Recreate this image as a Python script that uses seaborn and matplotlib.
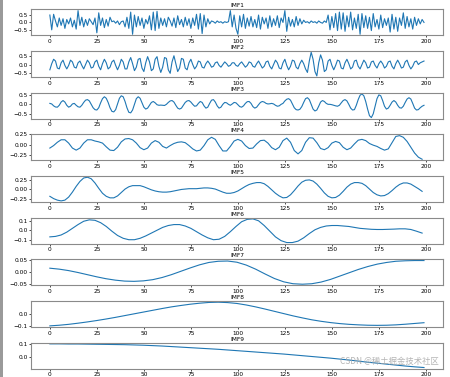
import numpy as np
import matplotlib
matplotlib.use("Agg")
import matplotlib.pyplot as plt
import seaborn as sns

# ---- IMF components ----
imf1 = [
    0.50, -0.50, 0.55, 0.10, -0.30, 0.30, -0.20, 0.25, -0.40, 0.20,
    -0.10, 0.30, -0.30, 0.15, -0.45, 0.80, -0.20, 0.35, -0.30, 0.20,
    -0.20, 0.25, 0.05, -0.15, 0.30, -0.70, 0.65, -0.20, 0.30, -0.35,
    0.20, -0.25, 0.35, 0.05, 0.10, -0.05, 0.10, -0.15, 0.05, 0.10,
    -0.30, 0.35, -0.40, 0.70, -0.80, 0.50, -0.30, 0.40, -0.20, 0.30,
    -0.40, 0.20, -0.10, 0.45, -0.50, 0.70, -0.55, 0.75, -0.40, 0.30,
    -0.20, 0.25, -0.30, 0.35, 0.10, -0.25, 0.30, -0.35, 0.45, -0.15,
    0.20, -0.30, 0.35, -0.20, 0.25, -0.40, 0.30, -0.20, 0.55, -0.45,
    0.60, -0.75, 0.50, -0.30, 0.25, -0.10, 0.10, 0.05, -0.05, 0.10,
    0.00, 0.05, -0.05, 0.05, 0.00, 0.05, 0.80, -0.30, 0.50, -0.40,
    -0.80, 0.45, -0.30, 0.55, -0.40, 0.30, -0.25, 0.40, -0.30, 0.20,
    -0.35, 0.50, -0.45, 0.35, -0.10, 0.30, -0.40, 0.45, -0.30, 0.25,
    -0.20, 0.45, -0.35, 0.30, 0.00, 0.80, -0.60, 0.35, -0.25, 0.20,
    -0.30, 0.40, -0.20, 0.25, -0.10, 0.15, 0.00, 0.05, -0.05, 0.10,
    0.00, 0.05, -0.05, 0.10, 0.00, -0.05, 0.10, 0.00, 0.50, -0.50,
    0.40, -0.35, 0.60, -0.55, 0.70, -0.45, 0.65, -0.60, 0.45, -0.30,
    0.70, -0.50, 0.30, -0.40, 0.55, -0.80, 0.60, -0.35, 0.45, -0.40,
    0.35, -0.55, 0.60, -0.30, 0.20, -0.45, 0.50, -0.35, 0.25, -0.20,
    0.30, -0.65, 0.55, -0.45, 0.35, -0.60, 0.30, -0.20, 0.65, -0.40,
    0.40, -0.30, 0.25, -0.45, 0.35, -0.20, 0.25, -0.10, 0.20, 0.00,
]

imf2 = [
    -0.30, 0.05, 0.30, 0.20, -0.20, -0.25, 0.10, 0.25, -0.05, -0.25,
    -0.05, 0.25, 0.15, -0.15, -0.20, 0.10, 0.20, -0.05, -0.25, 0.00,
    0.25, 0.10, -0.20, -0.15, 0.15, 0.25, -0.10, -0.30, 0.05, 0.30,
    0.10, -0.25, -0.15, 0.15, 0.25, -0.05, -0.30, -0.05, 0.30, 0.15,
    -0.25, -0.25, 0.15, 0.40, 0.05, -0.35, -0.15, 0.30, 0.35, -0.20,
    -0.40, 0.10, 0.45, 0.15, -0.35, -0.25, 0.30, 0.45, -0.10, -0.45,
    -0.15, 0.40, 0.35, -0.30, -0.50, 0.15, 0.50, 0.05, -0.40, -0.20,
    0.35, 0.30, -0.20, -0.30, 0.10, 0.30, 0.00, -0.25, -0.10, 0.20,
    0.15, -0.15, -0.20, 0.05, 0.20, 0.05, -0.15, -0.10, 0.10, 0.15,
    -0.05, -0.15, 0.00, 0.15, 0.05, -0.10, -0.05, 0.10, 0.10, -0.05,
    -0.10, 0.05, 0.15, 0.00, -0.15, -0.05, 0.15, 0.10, -0.10, -0.15,
    0.05, 0.20, 0.00, -0.20, -0.10, 0.15, 0.20, -0.10, -0.25, 0.00,
    0.25, 0.10, -0.20, -0.25, 0.10, 0.30, -0.05, -0.30, -0.10, 0.25,
    0.20, -0.15, -0.25, 0.05, 0.25, 0.05, -0.25, -0.45, 0.20, 0.70,
    0.30, -0.40, -0.65, 0.10, 0.55, 0.25, -0.40, -0.30, 0.20, 0.30,
    -0.05, -0.30, -0.05, 0.25, 0.20, -0.20, -0.25, 0.10, 0.30, 0.05,
    -0.25, -0.15, 0.20, 0.25, -0.10, -0.25, 0.00, 0.25, 0.10, -0.20,
    -0.15, 0.15, 0.20, -0.05, -0.20, 0.05, 0.20, 0.05, -0.20, -0.10,
    0.15, 0.20, -0.10, -0.25, 0.05, 0.25, 0.05, -0.20, -0.15, 0.15,
    0.25, -0.05, -0.25, -0.10, 0.15, 0.20, 0.00, 0.10, 0.15, 0.20,
]

imf3 = [
    0.05, 0.02, -0.08, -0.14, -0.15, -0.05, 0.12, 0.20, 0.12, -0.05,
    -0.15, -0.10, 0.02, 0.05, -0.05, -0.13, -0.15, -0.05, 0.10, 0.22,
    0.25, 0.18, 0.00, -0.18, -0.28, -0.30, -0.18, 0.08, 0.30, 0.40,
    0.32, 0.10, -0.18, -0.37, -0.40, -0.28, 0.02, 0.32, 0.45, 0.40,
    0.15, -0.18, -0.42, -0.45, -0.30, 0.00, 0.30, 0.40, 0.32, 0.08,
    -0.15, -0.25, -0.20, -0.05, 0.10, 0.15, 0.08, -0.02, -0.05, -0.04,
    -0.05, -0.06, 0.00, 0.10, 0.18, 0.20, 0.12, -0.05, -0.20, -0.25,
    -0.20, -0.05, 0.10, 0.18, 0.20, 0.12, 0.00, -0.10, -0.08, 0.05,
    0.15, 0.10, -0.08, -0.20, -0.15, 0.05, 0.22, 0.25, 0.12, -0.08,
    -0.20, -0.15, 0.00, 0.10, 0.08, 0.00, -0.05, 0.02, 0.10, 0.08,
    -0.02, -0.12, -0.15, -0.08, 0.05, 0.14, 0.15, 0.05, -0.12, -0.20,
    -0.15, -0.02, 0.10, 0.15, 0.12, 0.05, 0.02, 0.03, 0.05, 0.02,
    -0.05, -0.10, -0.08, 0.00, 0.05, 0.18, 0.27, 0.30, 0.22, 0.02,
    -0.18, -0.28, -0.30, -0.26, -0.12, 0.10, 0.30, 0.35, 0.25, 0.00,
    -0.25, -0.35, -0.30, -0.10, 0.12, 0.20, 0.15, 0.05, 0.00, 0.00,
    -0.02, -0.05, -0.08, -0.10, -0.05, 0.08, 0.20, 0.25, 0.18, 0.00,
    -0.20, -0.30, -0.28, -0.05, 0.25, 0.48, 0.55, 0.45, 0.15, -0.25,
    -0.60, -0.70, -0.50, -0.10, 0.30, 0.50, 0.45, 0.20, -0.10, -0.25,
    -0.20, -0.05, 0.12, 0.20, 0.12, -0.05, -0.18, -0.20, -0.10, 0.10,
    0.28, 0.35, 0.28, 0.05, -0.20, -0.30, -0.28, -0.18, -0.10, -0.05,
]

# sampled every 2 steps
imf4 = [
    -0.08, -0.02, 0.06, 0.12, 0.12, 0.04, -0.08, -0.13, -0.08, 0.04,
    0.12, 0.12, 0.09, 0.07, 0.04, -0.05, -0.13, -0.14, -0.06, 0.07,
    0.14, 0.15, 0.12, 0.04, -0.07, -0.12, -0.08, 0.04, 0.10, 0.06,
    -0.04, -0.08, -0.02, 0.03, 0.06, 0.07, 0.05, -0.02, -0.10, -0.15,
    -0.13, -0.02, 0.12, 0.18, 0.13, -0.02, -0.15, -0.15, -0.04, 0.09,
    0.13, 0.09, -0.02, -0.09, -0.08, 0.02, 0.10, 0.11, 0.04, -0.07,
    -0.12, -0.06, 0.10, 0.16, 0.06, -0.14, -0.22, -0.14, 0.06, 0.17,
    0.16, 0.05, -0.09, -0.12, -0.07, 0.04, 0.08, 0.05, -0.06, -0.12,
    -0.08, 0.02, 0.11, 0.13, 0.10, 0.03, -0.01, -0.04, -0.09, -0.13,
    -0.10, 0.05, 0.20, 0.22, 0.18, 0.08, -0.06, -0.20, -0.30, -0.35,
]

imf5 = [
    -0.18, -0.24, -0.28, -0.30, -0.28, -0.20, -0.07, 0.08, 0.21, 0.30,
    0.32, 0.28, 0.17, 0.03, -0.10, -0.18, -0.22, -0.22, -0.17, -0.08,
    0.01, 0.07, 0.10, 0.10, 0.10, 0.07, 0.03, -0.01, -0.04, -0.06,
    -0.07, -0.07, -0.06, -0.04, -0.02, 0.00, 0.01, 0.02, 0.02, 0.02,
    0.03, 0.04, 0.04, 0.03, 0.01, -0.03, -0.07, -0.10, -0.10, -0.08,
    -0.04, 0.02, 0.08, 0.13, 0.16, 0.18, 0.18, 0.15, 0.08, -0.01,
    -0.10, -0.17, -0.22, -0.21, -0.14, -0.03, 0.09, 0.19, 0.24, 0.25,
    0.22, 0.14, 0.03, -0.09, -0.18, -0.22, -0.21, -0.15, -0.05, 0.06,
    0.14, 0.18, 0.18, 0.16, 0.10, 0.01, -0.08, -0.14, -0.17, -0.16,
    -0.11, -0.03, 0.06, 0.13, 0.17, 0.17, 0.14, 0.08, 0.02, -0.05,
]

# sampled every 3 steps
imf6 = [
    -0.07, -0.065, -0.05, -0.02, 0.02, 0.06, 0.095, 0.11, 0.105, 0.08,
    0.04, -0.01, -0.055, -0.085, -0.10, -0.10, -0.085, -0.06, -0.03, 0.00,
    0.03, 0.05, 0.06, 0.06, 0.045, 0.02, -0.015, -0.05, -0.08, -0.10,
    -0.095, -0.065, -0.015, 0.04, 0.09, 0.115, 0.12, 0.10, 0.05, -0.01,
    -0.07, -0.11, -0.13, -0.13, -0.115, -0.08, -0.035, 0.005, 0.03, 0.045,
    0.05, 0.05, 0.045, 0.04, 0.03, 0.02, 0.015, 0.01, 0.008, 0.008,
    0.01, 0.012, 0.015, 0.015, 0.008, -0.01, -0.03,
]

# sampled about every 5 steps
imf7 = [
    0.015, 0.011, 0.005, -0.003, -0.012, -0.021, -0.029, -0.035, -0.039, -0.040,
    -0.038, -0.033, -0.024, -0.012, 0.002, 0.016, 0.029, 0.039, 0.044, 0.045,
    0.040, 0.028, 0.011, -0.009, -0.028, -0.042, -0.050, -0.052, -0.050, -0.043,
    -0.032, -0.018, -0.004, 0.010, 0.022, 0.032, 0.039, 0.044, 0.046, 0.047,
    0.047,
]

imf8 = [
    -0.097, -0.092, -0.085, -0.076, -0.066, -0.055, -0.043, -0.030, -0.016, -0.002,
    0.012, 0.026, 0.040, 0.053, 0.064, 0.074, 0.082, 0.088, 0.090, 0.087,
    0.080, 0.068, 0.053, 0.036, 0.018, 0.000, -0.018, -0.034, -0.049, -0.061,
    -0.071, -0.079, -0.085, -0.089, -0.092, -0.093, -0.092, -0.089, -0.084, -0.078,
    -0.072,
]

imf9 = [
    0.100, 0.100, 0.099, 0.099, 0.098, 0.097, 0.096, 0.095, 0.094, 0.092,
    0.090, 0.087, 0.084, 0.080, 0.076, 0.072, 0.068, 0.064, 0.060, 0.055,
    0.050, 0.045, 0.040, 0.035, 0.030, 0.025, 0.019, 0.013, 0.007, 0.001,
    -0.005, -0.012, -0.019, -0.027, -0.035, -0.042, -0.049, -0.056, -0.063, -0.069,
    -0.074,
]

imfs = [imf1, imf2, imf3, imf4, imf5, imf6, imf7, imf8, imf9]
titles = ["IMF1", "IMF2", "IMF3", "IMF4", "IMF5", "IMF6", "IMF7", "IMF8", "IMF9"]
yticks = [
    [-0.5, 0.0, 0.5], [-0.5, 0.0, 0.5], [-0.5, 0.0, 0.5],
    [-0.25, 0.0, 0.25], [-0.25, 0.0, 0.25], [-0.1, 0.0, 0.1],
    [-0.05, 0.0, 0.05], [-0.1, 0.0], [0.0, 0.1],
]
ytick_fmt = ["%.1f", "%.1f", "%.1f", "%.2f", "%.2f", "%.1f", "%.2f", "%.1f", "%.1f"]
xticks = [0, 25, 50, 75, 100, 125, 150, 175, 200]

line_color = "#1f77b4"
fs = 4.2


def sample_x(n):
    # index positions of the stored samples over the 0..199 range
    if n == 200:
        return np.arange(200)
    if n == 100:
        return np.arange(0, 200, 2)
    if n == 67:
        return np.arange(0, 200, 3)
    return np.linspace(0, 199, n)


fig, axes = plt.subplots(9, 1, figsize=(4.5, 3.77), dpi=100)
fig.subplots_adjust(left=0.069, right=0.984, top=0.975, bottom=0.022, hspace=0.6)

for ax, vals, title, yt, fmt in zip(axes, imfs, titles, yticks, ytick_fmt):
    sns.lineplot(x=sample_x(len(vals)), y=vals, ax=ax, color=line_color, linewidth=0.8)
    ax.set_xlim(-10, 209)
    ax.set_xticks(xticks)
    ax.set_yticks(yt)
    ax.set_yticklabels([fmt % v if v >= 0 else "\u2212" + fmt % abs(v) for v in yt])
    ax.set_title(title, fontsize=fs, pad=1.5)
    ax.tick_params(labelsize=fs, length=1.5, width=0.5, pad=1)
    for sp in ax.spines.values():
        sp.set_edgecolor("#8a8a8a")
        sp.set_linewidth(0.8)

# watermark in the lower right corner
fig.text(0.865, 0.04, "CSDN @稀土掘金技术社区", fontsize=6, color="#a8a8a8",
         alpha=0.85, ha="center", va="center",
         family=["Noto Sans CJK SC", "DejaVu Sans"])

# grey border strip along the left edge
fig.patches.append(plt.Rectangle((0, 0), 0.007, 1, transform=fig.transFigure,
                                 facecolor="#9a9a9a", edgecolor="none"))

fig.savefig("out.png", dpi=100)
